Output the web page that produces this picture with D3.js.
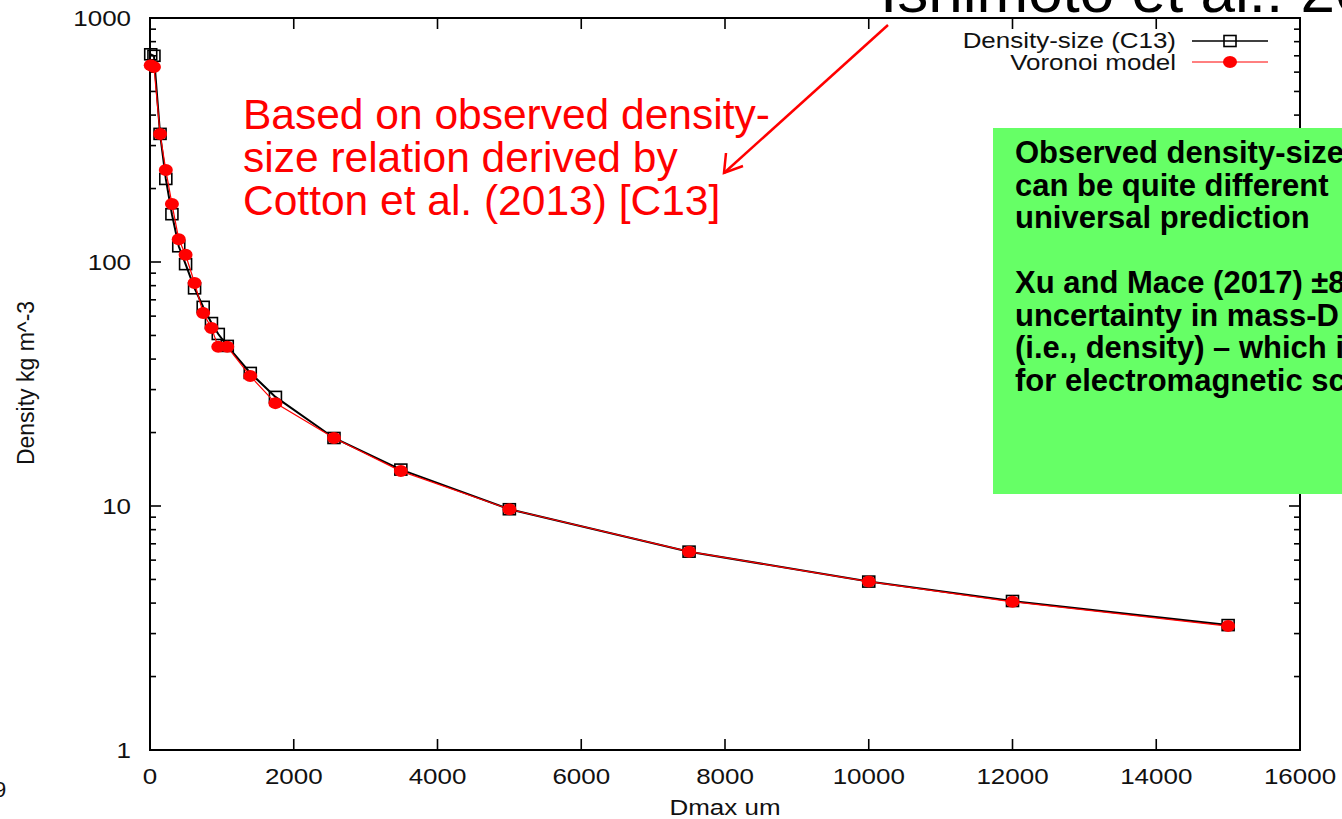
<!DOCTYPE html>
<html>
<head>
<meta charset="utf-8">
<script src="https://cdn.jsdelivr.net/npm/d3@7"></script>
<style>
  body { margin: 0; background: #fff; overflow: hidden; }
  text { font-family: "Liberation Sans", Arial, Helvetica, sans-serif; }
</style>
</head>
<body>
<div id="chart"></div>
<script>
// values
var dmax     = [10, 55, 140, 220, 305, 400, 495, 620, 740, 855, 950, 1075, 1395, 1745, 2560, 3490, 5000, 7500, 10000, 12000, 15000];
var densC13  = [710, 700, 335, 219, 157, 116, 98, 78, 65.5, 56.2, 50.7, 45.3, 35.1, 28.0, 19.0, 14.1, 9.7, 6.5, 4.9, 4.08, 3.25];
var densVor  = [640, 630, 335, 238, 173, 124, 107, 82, 61.8, 53.7, 44.9, 44.9, 34.1, 26.4, 19.0, 13.9, 9.7, 6.5, 4.9, 4.05, 3.22];
var xTicks   = [0, 2000, 4000, 6000, 8000, 10000, 12000, 14000, 16000];
var yTicks   = [1, 10, 100, 1000];
var seriesNames = ["Density-size (C13)", "Voronoi model"];
var noteLines = ["Based on observed density-", "size relation derived by", "Cotton et al. (2013) [C13]"];
var boxLines  = ["Observed density-size relation", "can be quite different", "universal prediction", "",
                 "Xu and Mace (2017) \u00b180%", "uncertainty in mass-D relation", "(i.e., density) \u2013 which is critical", "for electromagnetic scattering"];

var W = 1342, H = 819;
var pl = 150, pr = 1300, pt = 18, pb = 750;
var SX = 1.18;  // gnuplot text looks a bit wider than plain Arial

var svg = d3.select("#chart").append("svg")
    .attr("width", W)
    .attr("height", H);

var x = d3.scaleLinear().domain([0, 16000]).range([pl, pr]);
var y = d3.scaleLog().domain([1, 1000]).range([pb, pt]);

function wideText(g, px, py, str, size, anchor){
	return g.append("text")
		.attr("transform", "translate(" + px + "," + py + ") scale(" + SX + ",1)")
		.attr("text-anchor", anchor)
		.attr("font-size", size)
		.attr("fill", "#111")
		.text(str);
}

// minor ticks of the log axis
var minor = [];
[1, 10, 100].forEach(function(d){
	for (var k = 2; k <= 9; k++) minor.push(d * k);
});

// frame
svg.append("rect")
	.attr("x", pl).attr("y", pt)
	.attr("width", pr - pl).attr("height", pb - pt)
	.attr("fill", "none").attr("stroke", "#000").attr("stroke-width", 2);

var ticks = svg.append("g").attr("stroke", "#000").attr("stroke-width", 1.6);
xTicks.slice(1, -1).forEach(function(d){
	ticks.append("line").attr("x1", x(d)).attr("x2", x(d)).attr("y1", pb).attr("y2", pb - 11);
	ticks.append("line").attr("x1", x(d)).attr("x2", x(d)).attr("y1", pt).attr("y2", pt + 11);
});
yTicks.slice(1, -1).forEach(function(d){
	ticks.append("line").attr("x1", pl).attr("x2", pl + 11).attr("y1", y(d)).attr("y2", y(d));
	ticks.append("line").attr("x1", pr).attr("x2", pr - 11).attr("y1", y(d)).attr("y2", y(d));
});
minor.forEach(function(d){
	ticks.append("line").attr("x1", pl).attr("x2", pl + 6).attr("y1", y(d)).attr("y2", y(d));
	ticks.append("line").attr("x1", pr).attr("x2", pr - 6).attr("y1", y(d)).attr("y2", y(d));
});

// tick labels
var labs = svg.append("g");
xTicks.forEach(function(d){ wideText(labs, x(d), 784, d, 22, "middle"); });
yTicks.forEach(function(d){ wideText(labs, 131, y(d) + 8, d, 22, "end"); });

wideText(svg, 725, 815, "Dmax um", 22, "middle");

svg.append("text")
	.attr("transform", "translate(34,383) rotate(-90)")
	.attr("text-anchor", "middle")
	.attr("font-size", 23)
	.attr("fill", "#111")
	.text("Density kg m^-3");

// series
var line = d3.line()
	.x(function(d){ return x(d[0]); })
	.y(function(d){ return y(d[1]); });

var c13 = dmax.map(function(d, i){ return [d, densC13[i]]; });
var vor = dmax.map(function(d, i){ return [d, densVor[i]]; });

svg.append("path").datum(c13)
	.attr("d", line)
	.attr("fill", "none").attr("stroke", "#000").attr("stroke-width", 2);

svg.selectAll(".sq")
	.data(c13)
	.enter().append("rect")
	.attr("class", "sq")
	.attr("x", function(d){ return x(d[0]) - 6; })
	.attr("y", function(d){ return y(d[1]) - 5.5; })
	.attr("width", 12).attr("height", 11)
	.attr("fill", "none").attr("stroke", "#000").attr("stroke-width", 1.6);

svg.append("path").datum(vor)
	.attr("d", line)
	.attr("fill", "none").attr("stroke", "#ff0000").attr("stroke-width", 1.2);

svg.selectAll(".dot")
	.data(vor)
	.enter().append("ellipse")
	.attr("class", "dot")
	.attr("cx", function(d){ return x(d[0]); })
	.attr("cy", function(d){ return y(d[1]); })
	.attr("rx", 7).attr("ry", 6)
	.attr("fill", "#ff0000");

// legend
var leg = svg.append("g");
wideText(leg, 1176, 48, seriesNames[0], 22, "end");
wideText(leg, 1176, 70, seriesNames[1], 22, "end");
leg.append("line").attr("x1", 1192).attr("x2", 1268).attr("y1", 41).attr("y2", 41)
	.attr("stroke", "#000").attr("stroke-width", 1.6);
leg.append("rect").attr("x", 1224).attr("y", 35.5).attr("width", 12).attr("height", 11)
	.attr("fill", "none").attr("stroke", "#000").attr("stroke-width", 1.6);
leg.append("line").attr("x1", 1192).attr("x2", 1268).attr("y1", 62).attr("y2", 62)
	.attr("stroke", "#ff0000").attr("stroke-width", 1);
leg.append("ellipse").attr("cx", 1230).attr("cy", 62).attr("rx", 7).attr("ry", 6)
	.attr("fill", "#ff0000");

// red annotation + arrow
svg.selectAll(".note")
	.data(noteLines)
	.enter().append("text")
	.attr("class", "note")
	.attr("x", 243)
	.attr("y", function(d, i){ return 129 + i * 43; })
	.attr("font-size", 42.5)
	.attr("fill", "#ff0000")
	.text(function(d){ return d; });

svg.append("line")
	.attr("x1", 888).attr("y1", 25).attr("x2", 724).attr("y2", 173)
	.attr("stroke", "#ff0000").attr("stroke-width", 2.5);
svg.append("path")
	.attr("d", "M726,153 L724,173 L743,166")
	.attr("fill", "none").attr("stroke", "#ff0000").attr("stroke-width", 2.5);

// green box
svg.append("rect")
	.attr("x", 993).attr("y", 128).attr("width", 360).attr("height", 366)
	.attr("fill", "#66ff66");

svg.selectAll(".box")
	.data(boxLines)
	.enter().append("text")
	.attr("class", "box")
	.attr("x", 1015)
	.attr("y", function(d, i){ return 163 + i * 32.5; })
	.attr("font-size", 31)
	.attr("font-weight", "bold")
	.attr("fill", "#000")
	.text(function(d){ return d; });

// slide title (cut by the page edge) and slide number
svg.append("text").attr("x", 880).attr("y", 12)
	.attr("font-size", 62).attr("fill", "#000")
	.text("Ishimoto et al.: 2017");
svg.append("text").attr("x", -6).attr("y", 797)
	.attr("font-size", 22).attr("fill", "#111").text("9");
</script>
</body>
</html>
